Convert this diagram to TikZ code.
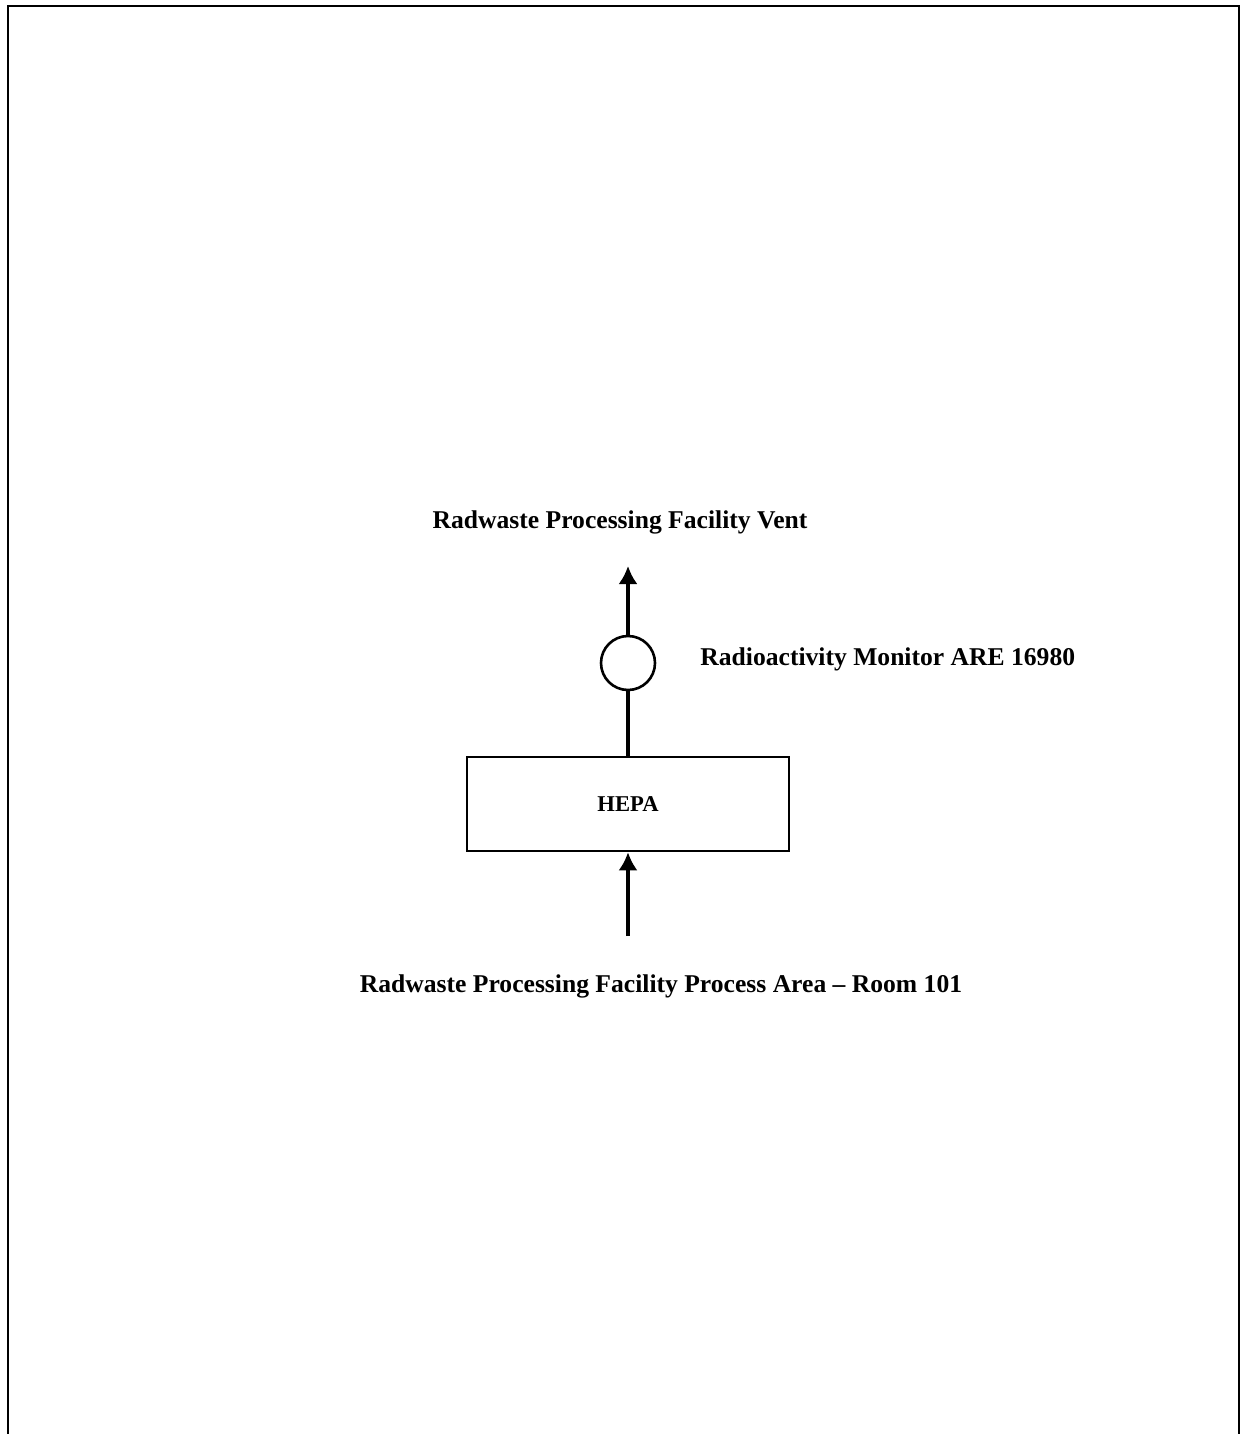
\documentclass[tikz,border=0pt]{standalone}
\usepackage{fontspec}
\setmainfont{Liberation Serif}
\usetikzlibrary{arrows.meta}

\begin{document}
\begin{tikzpicture}[
    x=0.5pt,
    y=-0.5pt,
    >=Latex,
    flow line/.style={
      line width=1.6pt
    },
    flow arrow/.style={
      flow line,
      -{Latex[length=9pt,width=9.5pt]}
    },
    diagram label/.style={
      font=\bfseries\fontsize{12.8}{15}\selectfont,
      inner sep=0pt
    }
]
\useasboundingbox (0,0) rectangle (1242,1434);

% Page frame (its bottom edge is cut off).
\draw[line width=1.2pt] (8,1434) -- (8,6) -- (1239,6) -- (1239,1434);

% Filter and monitor on the vent line.
\node[
  draw,
  line width=1.3pt,
  minimum width=161pt,
  minimum height=47pt,
  font=\bfseries\fontsize{11.3}{13}\selectfont
] (hepa) at (628,804) {HEPA};
\node[
  draw,
  circle,
  line width=1.3pt,
  minimum size=27pt,
  inner sep=0pt
] (monitor) at (628,663) {};

% Labels.
\node[diagram label] (vent) at (620,522) {Radwaste Processing Facility Vent};
\node[diagram label,anchor=west] (monitorlabel) at (700,659)
  {Radioactivity Monitor ARE 16980};
\node[diagram label] (room) at (661,986)
  {Radwaste Processing Facility Process Area -- Room 101};

% Air flow.
\coordinate (ventend) at (628,566);
\coordinate (roomend) at (628,936);
\draw[flow arrow] (roomend) -- (hepa.south);
\draw[flow line] (hepa.north) -- (monitor.south);
\draw[flow arrow] (monitor.north) -- (ventend);

\end{tikzpicture}
\end{document}
